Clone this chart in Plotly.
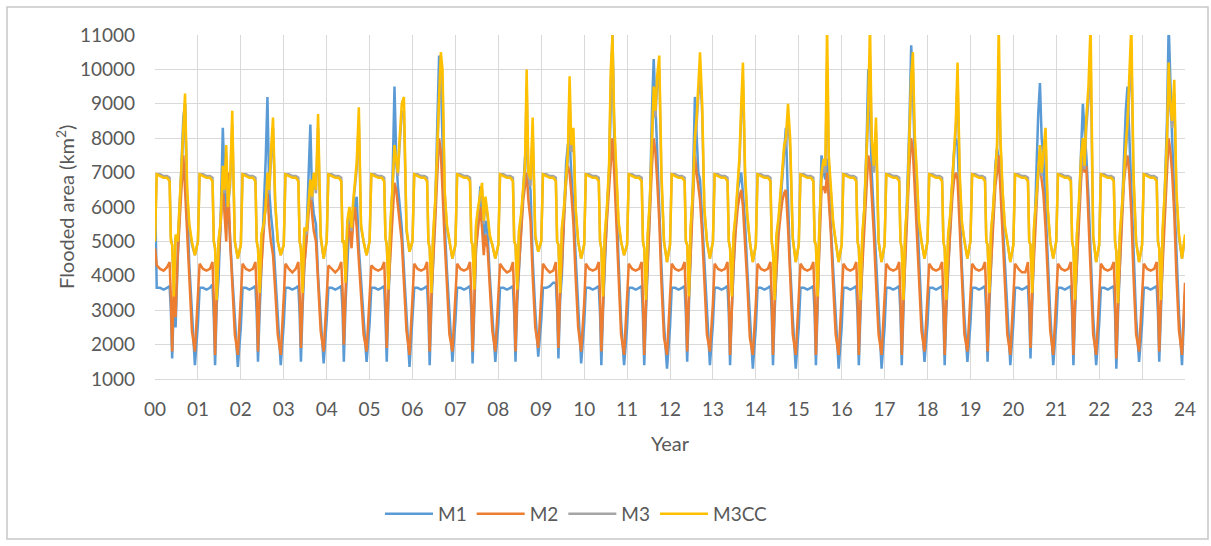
import plotly.graph_objects as go

# phase (fraction of a year) of each reading within a year
PHASE = [0.00, 0.04, 0.12, 0.20, 0.28, 0.34, 0.37, 0.40, 0.44, 0.48, 0.53, 0.58, 0.62, 0.66, 0.70, 0.75, 0.80, 0.86, 0.93]
YEARS = list(range(24))
TICK_LABELS = [f"{y:02d}" for y in range(25)]

M1 = [
    [6500, 3650, 3650, 3600, 3650, 3700, 3000, 1600, 3300, 2500, 4500, 6200, 7600, 8600, 9000, 6000, 4300, 2900, 1400],
    [2600, 3650, 3650, 3600, 3650, 3750, 2800, 1400, 3200, 3900, 5600, 8300, 6800, 5500, 6200, 5000, 4000, 2800, 1350],
    [2500, 3650, 3650, 3600, 3650, 3700, 2900, 1500, 3000, 4200, 5500, 7400, 9200, 6500, 5800, 5200, 4100, 2700, 1400],
    [2600, 3650, 3650, 3600, 3650, 3700, 2900, 1500, 3100, 4300, 5200, 6800, 8400, 6300, 5800, 5500, 4000, 2800, 1450],
    [2700, 3650, 3650, 3600, 3650, 3700, 3000, 1500, 3200, 4500, 5600, 5200, 5800, 6100, 6300, 4800, 3800, 2800, 1500],
    [2600, 3650, 3650, 3600, 3650, 3700, 2800, 1500, 3300, 4800, 6500, 9500, 7500, 6600, 6000, 5400, 4200, 2800, 1350],
    [2800, 3650, 3650, 3600, 3650, 3700, 2900, 1400, 3100, 4400, 6000, 8500, 10400, 9800, 7500, 5500, 4200, 2900, 1500],
    [2700, 3650, 3650, 3600, 3650, 3700, 3000, 1450, 3000, 4800, 5600, 6600, 5800, 4900, 5600, 5200, 4000, 2900, 1500],
    [2600, 3650, 3650, 3600, 3650, 3700, 2900, 1500, 3200, 4200, 5500, 6600, 7400, 8000, 6800, 6500, 4500, 3000, 1650],
    [2700, 3650, 3650, 3700, 3800, 3800, 3000, 1600, 3300, 4000, 5800, 7300, 7800, 8000, 7000, 6000, 4600, 3000, 1450],
    [2600, 3650, 3650, 3600, 3650, 3700, 2900, 1400, 3000, 4400, 5800, 7000, 9500, 11000, 8000, 6000, 4500, 2700, 1400],
    [2500, 3650, 3650, 3600, 3650, 3700, 2800, 1400, 2900, 4300, 6000, 8800, 10300, 9000, 7500, 6200, 4300, 2600, 1300],
    [2500, 3650, 3650, 3600, 3650, 3700, 2900, 1500, 3100, 4500, 6500, 9200, 7800, 7000, 6800, 5600, 4200, 2800, 1400],
    [2600, 3650, 3650, 3600, 3650, 3700, 2900, 1400, 3000, 4200, 5600, 6500, 6800, 7000, 6400, 5500, 4200, 2700, 1300],
    [2500, 3650, 3650, 3600, 3650, 3700, 2900, 1400, 3000, 4200, 5500, 6200, 7000, 7600, 8300, 6200, 4300, 2800, 1300],
    [2500, 3650, 3650, 3600, 3650, 3700, 2900, 1400, 3100, 5000, 7500, 7000, 6800, 7400, 6500, 5600, 4300, 2800, 1300],
    [2500, 3650, 3650, 3600, 3650, 3700, 2900, 1400, 3000, 4300, 5800, 7800, 10000, 9000, 7000, 5800, 4300, 2800, 1300],
    [2500, 3650, 3650, 3600, 3650, 3700, 2900, 1400, 3000, 4400, 6200, 8500, 10700, 9500, 7500, 6000, 4500, 2900, 1500],
    [2600, 3650, 3650, 3600, 3650, 3700, 2900, 1400, 3000, 4200, 5500, 6800, 7600, 8000, 7800, 6000, 4300, 2800, 1500],
    [2600, 3650, 3650, 3600, 3650, 3700, 2900, 1500, 3100, 4400, 5800, 7200, 7700, 7400, 6800, 5600, 4300, 2800, 1400],
    [2600, 3650, 3650, 3600, 3650, 3700, 2900, 1600, 3200, 4800, 6600, 8700, 9600, 8000, 7400, 6000, 4300, 2900, 1400],
    [2600, 3650, 3650, 3600, 3650, 3700, 2900, 1400, 3000, 4400, 6200, 7800, 9000, 8200, 7500, 6300, 4500, 2800, 1400],
    [2600, 3650, 3650, 3600, 3650, 3700, 2900, 1300, 2900, 4300, 6000, 7600, 8800, 9500, 8200, 6500, 4500, 2800, 1500],
    [2600, 3650, 3650, 3600, 3650, 3700, 2900, 1500, 3000, 4500, 6500, 8500, 11300, 9500, 8000, 6300, 4500, 2900, 1400],
]
M1_END = 3500

M2 = [
    [4800, 4300, 4200, 4150, 4250, 4400, 3400, 1800, 3800, 2800, 4600, 5800, 6800, 7500, 6500, 5200, 3800, 2400, 1800],
    [3300, 4350, 4200, 4150, 4200, 4400, 3300, 1700, 3600, 4500, 5500, 6600, 5800, 5000, 7000, 5000, 3800, 2300, 1700],
    [3200, 4350, 4200, 4150, 4200, 4400, 3500, 1800, 3500, 4200, 5200, 6200, 6500, 5500, 5000, 4600, 3600, 2300, 1700],
    [3300, 4350, 4200, 4100, 4200, 4400, 3500, 1900, 3400, 4300, 5000, 6000, 6500, 5800, 5300, 5000, 3700, 2400, 1800],
    [3300, 4300, 4200, 4100, 4200, 4400, 3600, 2000, 3500, 5000, 5500, 4800, 5600, 6000, 5400, 4500, 3500, 2300, 1800],
    [3300, 4300, 4200, 4150, 4200, 4400, 3400, 1900, 3600, 4600, 5800, 6700, 6500, 6000, 5600, 5000, 3800, 2400, 1700],
    [3400, 4350, 4200, 4150, 4200, 4400, 3400, 1800, 3400, 4300, 5600, 7000, 8000, 7600, 6200, 5000, 3800, 2300, 1800],
    [3300, 4350, 4200, 4150, 4200, 4400, 3500, 1800, 3300, 4800, 5400, 6000, 5400, 4600, 5200, 4800, 3700, 2400, 1800],
    [3300, 4350, 4200, 4100, 4150, 4400, 3400, 1800, 3500, 4300, 5400, 6200, 6600, 7000, 6200, 5600, 4000, 2500, 1900],
    [3300, 4350, 4200, 4100, 4150, 4400, 3400, 1900, 3600, 4300, 5600, 6800, 7200, 7000, 6400, 5500, 4000, 2500, 1800],
    [3200, 4350, 4200, 4150, 4200, 4400, 3400, 1800, 3300, 4500, 5600, 6500, 7500, 8000, 7000, 5500, 4000, 2300, 1700],
    [3200, 4350, 4200, 4150, 4200, 4400, 3300, 1700, 3200, 4500, 5800, 7200, 8000, 7600, 6800, 5600, 3800, 2200, 1700],
    [3200, 4350, 4200, 4150, 4200, 4400, 3400, 1800, 3400, 4600, 6000, 7500, 7000, 6500, 6200, 5200, 3800, 2300, 1800],
    [3200, 4350, 4200, 4150, 4200, 4400, 3400, 1700, 3300, 4300, 5300, 6000, 6300, 6500, 6000, 5000, 3800, 2200, 1700],
    [3200, 4350, 4200, 4150, 4200, 4400, 3400, 1700, 3300, 4300, 5200, 5800, 6200, 6400, 6500, 5400, 3800, 2300, 1700],
    [3200, 4350, 4200, 4150, 4200, 4400, 3400, 1700, 3400, 4800, 6500, 6600, 6400, 7000, 6200, 5200, 3800, 2300, 1700],
    [3200, 4350, 4200, 4150, 4200, 4400, 3400, 1700, 3300, 4300, 5500, 6800, 7500, 7200, 6400, 5200, 3800, 2300, 1700],
    [3200, 4350, 4200, 4150, 4200, 4400, 3400, 1700, 3300, 4500, 5800, 7200, 8000, 7600, 6600, 5400, 4000, 2400, 1800],
    [3200, 4350, 4200, 4150, 4200, 4400, 3400, 1700, 3300, 4300, 5300, 6300, 6800, 7000, 6800, 5400, 3900, 2300, 1800],
    [3300, 4350, 4200, 4150, 4200, 4400, 3400, 1800, 3400, 4400, 5500, 6600, 7000, 7500, 6500, 5200, 3800, 2300, 1700],
    [3300, 4350, 4200, 4100, 4100, 4400, 3400, 1900, 3500, 4600, 6000, 7000, 7200, 6800, 6400, 5400, 3900, 2400, 1700],
    [3200, 4350, 4200, 4150, 4200, 4400, 3400, 1700, 3300, 4400, 5800, 6800, 7500, 7000, 7200, 5600, 4000, 2300, 1700],
    [3200, 4350, 4200, 4150, 4200, 4400, 3400, 1600, 3200, 4300, 5600, 6800, 7200, 7500, 7000, 5800, 4000, 2300, 1800],
    [3200, 4350, 4200, 4150, 4200, 4400, 3400, 1800, 3300, 4500, 6000, 7000, 8000, 7600, 7000, 5800, 4000, 2400, 1700],
]
M2_END = 3800

M3 = [
    [5100, 6950, 6950, 6900, 6900, 6850, 5100, 4900, 3500, 5100, 5000, 6300, 7300, 8100, 9000, 6300, 5400, 4900, 4600],
    [5000, 6950, 6950, 6900, 6900, 6850, 5000, 4800, 3400, 5000, 5500, 7000, 6400, 7500, 6000, 6600, 8400, 5000, 4500],
    [4900, 6950, 6950, 6900, 6900, 6850, 5000, 4800, 3600, 5200, 5400, 6000, 6800, 6400, 7400, 8300, 6100, 5000, 4600],
    [4900, 6950, 6950, 6900, 6900, 6850, 5000, 4800, 3600, 5300, 5200, 6100, 6700, 6200, 6900, 6400, 8300, 5100, 4500],
    [5000, 6950, 6950, 6900, 6900, 6850, 5000, 5000, 3900, 5500, 5900, 5300, 6100, 6600, 7100, 8500, 5400, 5000, 4600],
    [5000, 6950, 6950, 6900, 6900, 6850, 5100, 4900, 3700, 5300, 6400, 7600, 7300, 6900, 7800, 8700, 8800, 5300, 4700],
    [5000, 6950, 6950, 6900, 6900, 6850, 5000, 4800, 3600, 5100, 6100, 7600, 9200, 10100, 9600, 6400, 5400, 5000, 4500],
    [4900, 6950, 6950, 6900, 6900, 6850, 5000, 4900, 3700, 5400, 5900, 6300, 6500, 5500, 6200, 5700, 5100, 4900, 4500],
    [4900, 6950, 6950, 6900, 6900, 6850, 5000, 4900, 3700, 5200, 5700, 6400, 7000, 9500, 6900, 6600, 8200, 5100, 4700],
    [5000, 6950, 6950, 6900, 6900, 6850, 5000, 4900, 3600, 5300, 5900, 6900, 7400, 9300, 7600, 8000, 5900, 5000, 4500],
    [4900, 6950, 6950, 6900, 6900, 6850, 5000, 4800, 3500, 5100, 5900, 7000, 9600, 10600, 8300, 6900, 5500, 5000, 4600],
    [4900, 6950, 6950, 6900, 6900, 6850, 5000, 4800, 3400, 5100, 6100, 7800, 9200, 8600, 9500, 10000, 6800, 5000, 4400],
    [4900, 6950, 6950, 6900, 6900, 6850, 5000, 4900, 3500, 5300, 6300, 7800, 8400, 9200, 10000, 8700, 5900, 5000, 4500],
    [5000, 6950, 6950, 6900, 6900, 6850, 5000, 4800, 3500, 5100, 5700, 6600, 7300, 8700, 9700, 6800, 5700, 5000, 4400],
    [4900, 6950, 6950, 6900, 6900, 6850, 5000, 4700, 3400, 5100, 5600, 6400, 6900, 7600, 7800, 8600, 7700, 5100, 4400],
    [4900, 6950, 6950, 6900, 6900, 6850, 5000, 4900, 3500, 5400, 6800, 7200, 7000, 10200, 7300, 6400, 5500, 5000, 4400],
    [4900, 6950, 6950, 6900, 6900, 6850, 5000, 4800, 3400, 5100, 5900, 7300, 8700, 10400, 7800, 7000, 8200, 5000, 4400],
    [4900, 6950, 6950, 6900, 6900, 6850, 5000, 4800, 3400, 5200, 6100, 7800, 9500, 10000, 8000, 6900, 5500, 5000, 4500],
    [5000, 6950, 6950, 6900, 6900, 6850, 5000, 4800, 3400, 5100, 5700, 6600, 7300, 8300, 9700, 6800, 5500, 5000, 4500],
    [5000, 6950, 6950, 6900, 6900, 6850, 5000, 4900, 3600, 5200, 5900, 7000, 7600, 10300, 7800, 6400, 5400, 5000, 4400],
    [4900, 6950, 6950, 6900, 6900, 6850, 5000, 4900, 3600, 5300, 6100, 7000, 7600, 6900, 7400, 8000, 5900, 5000, 4500],
    [5000, 6950, 6950, 6900, 6900, 6850, 5000, 4800, 3400, 5100, 6100, 7300, 7800, 7100, 8300, 9100, 10300, 5100, 4400],
    [4900, 6950, 6950, 6900, 6900, 6850, 5000, 4700, 3300, 5100, 5900, 7000, 7600, 8300, 9400, 10500, 6800, 5000, 4400],
    [4900, 6950, 6950, 6900, 6900, 6850, 5000, 4800, 3400, 5300, 6300, 7800, 9800, 8800, 8300, 9300, 6300, 5100, 4500],
]
M3_END = 5100

M3CC = [
    [5000, 6950, 6900, 6850, 6850, 6750, 5000, 4900, 3400, 5200, 5000, 6400, 7500, 8300, 9300, 6500, 5500, 5000, 4600],
    [5000, 6950, 6900, 6850, 6850, 6750, 5000, 4800, 3300, 5000, 5600, 7200, 6500, 7800, 6000, 6800, 8800, 5000, 4500],
    [4900, 6950, 6900, 6850, 6850, 6750, 5000, 4800, 3500, 5200, 5500, 6000, 7000, 6500, 7600, 8600, 6200, 5000, 4600],
    [4900, 6950, 6900, 6850, 6850, 6750, 5000, 4800, 3500, 5400, 5300, 6200, 6800, 6300, 7000, 6500, 8700, 5200, 4500],
    [5000, 6950, 6900, 6850, 6850, 6750, 5000, 5000, 3800, 5600, 6000, 5400, 6200, 6800, 7300, 8900, 5500, 5000, 4600],
    [5000, 6950, 6900, 6850, 6850, 6750, 5100, 4900, 3600, 5400, 6500, 7800, 7400, 7000, 8000, 9000, 9200, 5400, 4700],
    [5000, 6950, 6900, 6850, 6850, 6750, 5000, 4800, 3500, 5200, 6200, 7800, 9500, 10500, 10000, 6500, 5500, 5000, 4500],
    [4900, 6950, 6900, 6850, 6850, 6750, 5000, 4900, 3600, 5500, 6000, 6400, 6700, 5600, 6300, 5800, 5200, 4900, 4500],
    [4900, 6950, 6900, 6850, 6850, 6750, 5000, 4900, 3600, 5300, 5800, 6500, 7200, 10000, 7000, 6800, 8600, 5200, 4700],
    [5000, 6950, 6900, 6850, 6850, 6750, 5000, 4900, 3500, 5400, 6000, 7000, 7600, 9800, 7800, 8300, 6000, 5000, 4500],
    [4900, 6950, 6900, 6850, 6850, 6750, 5000, 4800, 3400, 5200, 6000, 7200, 10000, 11000, 8500, 7000, 5600, 5000, 4600],
    [4900, 6950, 6900, 6850, 6850, 6750, 5000, 4800, 3300, 5200, 6200, 8000, 9500, 8800, 9800, 10400, 7000, 5000, 4400],
    [4900, 6950, 6900, 6850, 6850, 6750, 5000, 4900, 3400, 5400, 6400, 8000, 8600, 9500, 10500, 9000, 6000, 5000, 4500],
    [5000, 6950, 6900, 6850, 6850, 6750, 5000, 4800, 3400, 5200, 5800, 6800, 7500, 9000, 10200, 7000, 5800, 5000, 4400],
    [4900, 6950, 6900, 6850, 6850, 6750, 5000, 4700, 3300, 5200, 5700, 6500, 7000, 7800, 8000, 9000, 8000, 5100, 4400],
    [4900, 6950, 6900, 6850, 6850, 6750, 5000, 4900, 3400, 5500, 7000, 7400, 7200, 11300, 7500, 6500, 5600, 5000, 4400],
    [4900, 6950, 6900, 6850, 6850, 6750, 5000, 4800, 3300, 5200, 6000, 7500, 9000, 11300, 8000, 7200, 8600, 5000, 4400],
    [4900, 6950, 6900, 6850, 6850, 6750, 5000, 4800, 3300, 5300, 6200, 8000, 9800, 10500, 8200, 7000, 5600, 5000, 4500],
    [5000, 6950, 6900, 6850, 6850, 6750, 5000, 4800, 3300, 5200, 5800, 6800, 7500, 8500, 10200, 7000, 5600, 5000, 4500],
    [5000, 6950, 6900, 6850, 6850, 6750, 5000, 4900, 3500, 5300, 6000, 7200, 7800, 11300, 8000, 6500, 5500, 5000, 4400],
    [4900, 6950, 6900, 6850, 6850, 6750, 5000, 4900, 3500, 5400, 6200, 7200, 7800, 7000, 7600, 8300, 6000, 5000, 4500],
    [5000, 6950, 6900, 6850, 6850, 6750, 5000, 4800, 3300, 5200, 6200, 7500, 8000, 7200, 8600, 9500, 11300, 5200, 4400],
    [4900, 6950, 6900, 6850, 6850, 6750, 5000, 4700, 3200, 5200, 6000, 7200, 7800, 8500, 9800, 11300, 7000, 5000, 4400],
    [4900, 6950, 6900, 6850, 6850, 6750, 5000, 4800, 3300, 5400, 6500, 8000, 10200, 9000, 8500, 9700, 6500, 5200, 4500],
]
M3CC_END = 5200

SERIES = [
    ("M1", M1, M1_END, "#5B9BD5"),
    ("M2", M2, M2_END, "#ED7D31"),
    ("M3", M3, M3_END, "#A5A5A5"),
    ("M3CC", M3CC, M3CC_END, "#FFC000"),
]

FONT = "Lato, 'Open Sans', sans-serif"
TXT = "#595959"
GRID = "#D9D9D9"

fig = go.Figure()
for name, rows, end_val, color in SERIES:
    xs, ys = [], []
    for yr, row in zip(YEARS, rows):
        for ph, v in zip(PHASE, row):
            xs.append(yr + ph)
            ys.append(v)
    xs.append(24)
    ys.append(end_val)
    fig.add_trace(go.Scatter(x=xs, y=ys, mode="lines", name=name,
                             line=dict(color=color, width=2.5)))

W, H = 1211, 546
L, R, T, B = 155, 26, 35, 167
pw, ph = W - L - R, H - T - B

def px_x(x):
    return (x - L) / pw

def px_y(y):
    return (H - B - y) / ph

fig.update_layout(
    width=W, height=H,
    margin=dict(l=L, r=R, t=T, b=B),
    paper_bgcolor="white", plot_bgcolor="white",
    font=dict(family=FONT, size=19, color=TXT),
    showlegend=True,
    legend=dict(orientation="h", x=px_x(380), xanchor="left",
                y=px_y(514), yanchor="middle",
                font=dict(size=19, color=TXT), itemwidth=48,
                traceorder="normal"),
    xaxis=dict(range=[0, 24], tickmode="array", tickvals=list(range(25)),
               ticktext=TICK_LABELS, showgrid=True, gridcolor=GRID,
               zeroline=False, showline=True, linecolor=GRID,
               ticks="", ticklabelstandoff=13, tickfont=dict(size=19, color=TXT)),
    yaxis=dict(range=[1000, 11000], dtick=1000, tick0=1000, tickformat="d",
               showgrid=True, gridcolor=GRID, zeroline=False, showline=False,
               ticks="", ticklabelstandoff=19, tickfont=dict(size=19, color=TXT)),
    annotations=[
        dict(text="Year", xref="paper", yref="paper", x=0.5, y=px_y(443),
             showarrow=False, font=dict(size=20, color=TXT),
             xanchor="center", yanchor="middle"),
        dict(text="Flooded area (km<sup>2</sup>)", xref="paper", yref="paper",
             x=px_x(65), y=0.5, textangle=-90, showarrow=False,
             font=dict(size=20, color=TXT), xanchor="center", yanchor="middle"),
    ],
    shapes=[
        dict(type="rect", xref="paper", yref="paper",
             x0=px_x(7), x1=px_x(1208), y0=px_y(539), y1=px_y(7),
             line=dict(color="#C8C8C8", width=1.5), fillcolor="rgba(0,0,0,0)", layer="below"),
    ],
)

fig.write_html("out.html", config={"displayModeBar": False},
               post_script="document.body.style.margin='0';")
